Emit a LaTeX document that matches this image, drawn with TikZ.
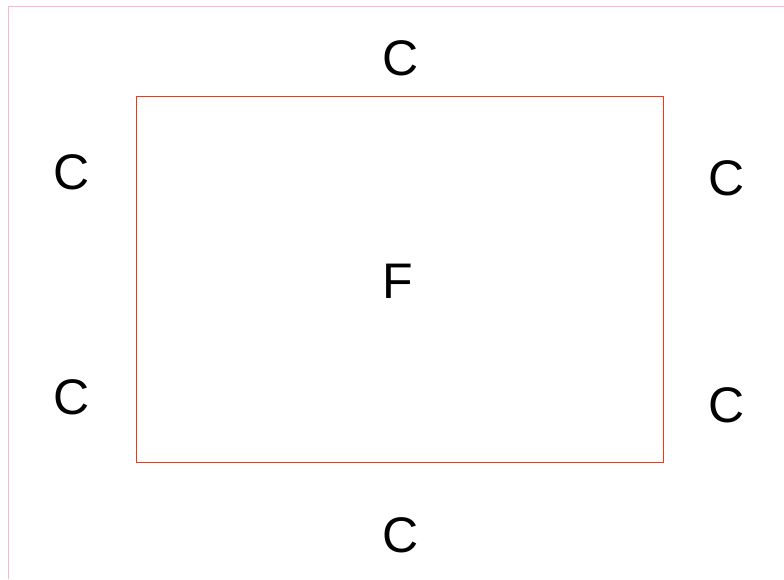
\documentclass[tikz,border=0pt]{standalone}
\usepackage{fontspec}
\setmainfont{Liberation Sans}
\definecolor{pinkline}{HTML}{FFB3D9}
\definecolor{boxred}{HTML}{FF3311}
\tikzset{lbl/.style={font=\fontsize{50}{50}\selectfont, inner sep=0pt, anchor=center}}
\begin{document}
\begin{tikzpicture}[x=1pt,y=-1pt]
\useasboundingbox (0,0) rectangle (784,579);
\draw[pinkline, line width=1pt] (8.5,579) -- (8.5,6.5) -- (784,6.5);
\node[draw=boxred, line width=1pt, inner sep=0pt, minimum width=527pt, minimum height=366pt] (box) at (399.5,279) {};
\node[lbl] (f) at (398,281) {F};
\node[lbl] (ct) at (401,58) {C};
\node[lbl] (cl1) at (72,172) {C};
\node[lbl] (cl2) at (72,397) {C};
\node[lbl] (cr1) at (727,178) {C};
\node[lbl] (cr2) at (727,405) {C};
\node[lbl] (cb) at (401,535) {C};
\end{tikzpicture}
\end{document}
